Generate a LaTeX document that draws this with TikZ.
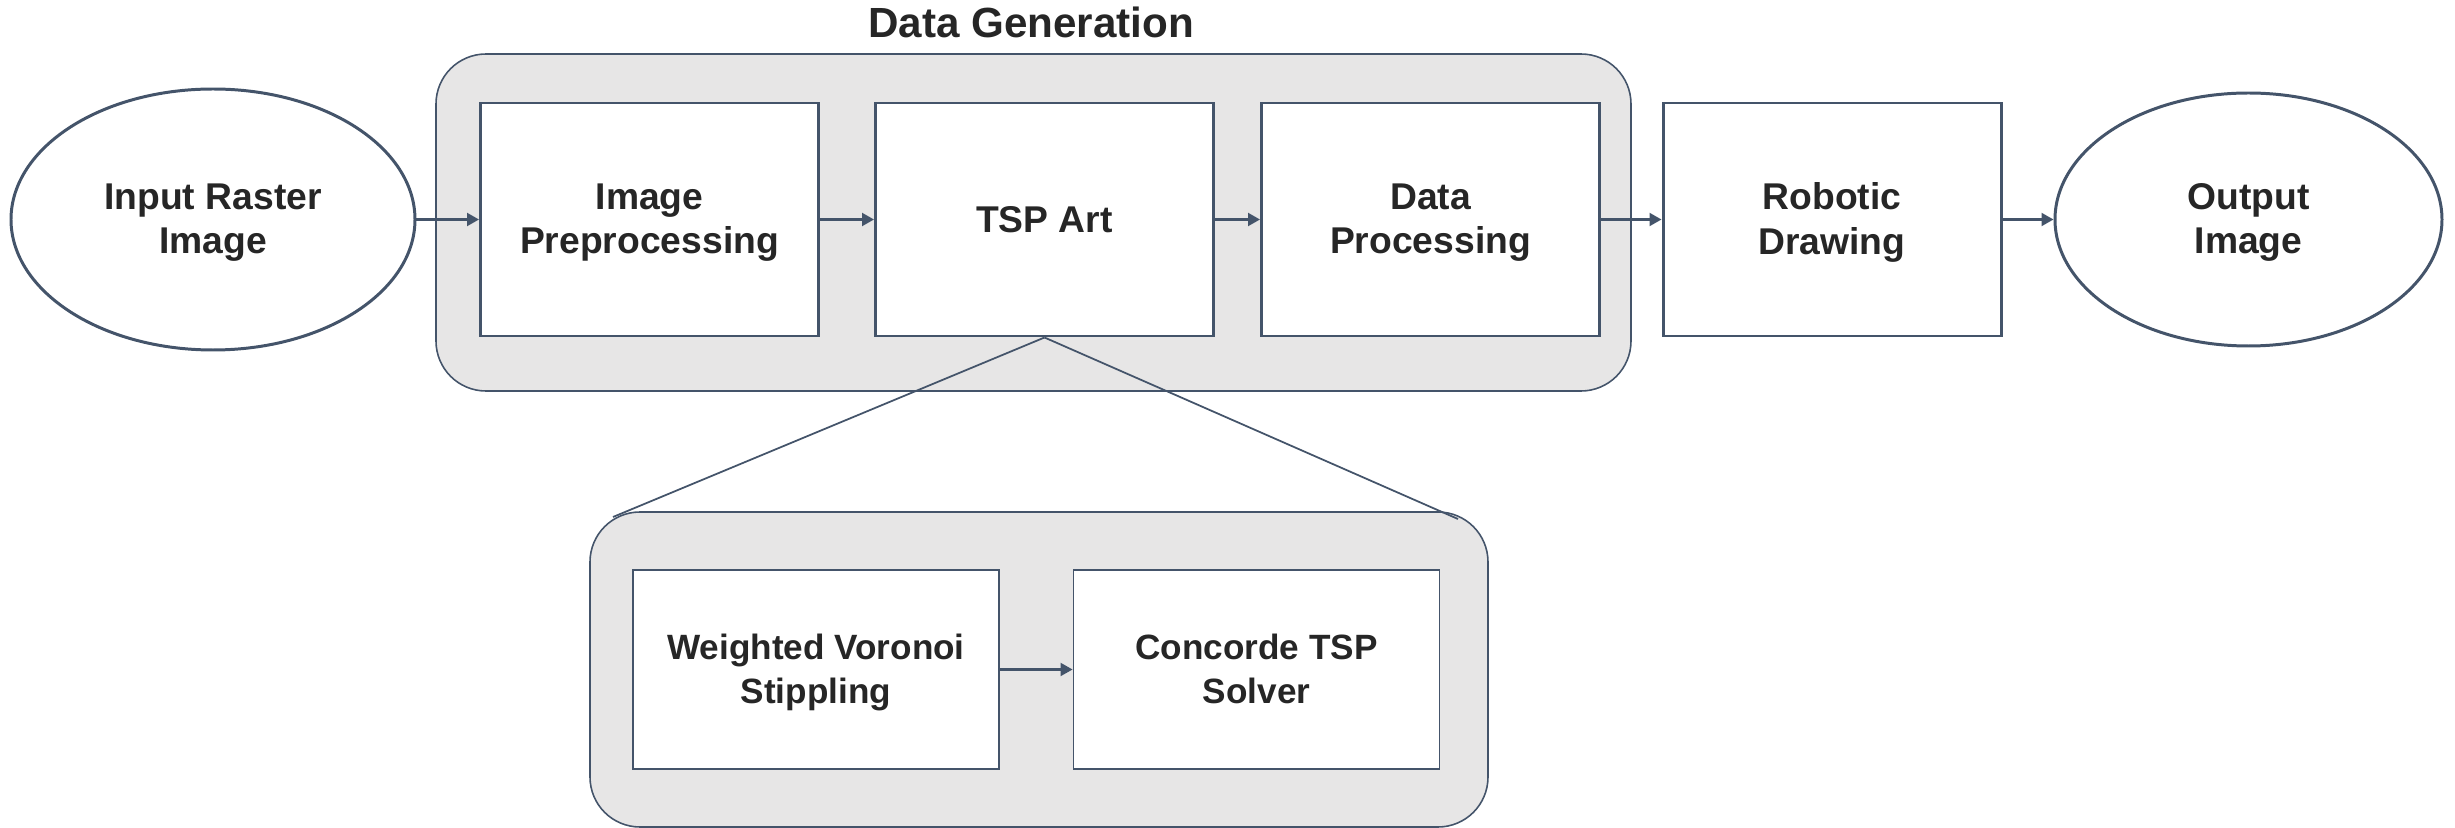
\documentclass[tikz,border=0pt]{standalone}
\usepackage{fontspec}
\setmainfont{Liberation Sans}
\usepackage{xcolor}
\usetikzlibrary{arrows.meta,shapes.geometric}
\definecolor{edgeblue}{HTML}{44546A}
\definecolor{groupgray}{HTML}{E7E6E6}
\definecolor{textdark}{HTML}{262626}

\begin{document}
\begin{tikzpicture}[
    stage/.style={draw=edgeblue,line width=0.85pt,fill=white,minimum width=3.38cm,minimum height=2.33cm,align=center,text=textdark,font=\fontsize{10.6}{12.6}\selectfont\bfseries},
    twoline/.style={text depth=0.5pt},
    substage/.style={stage,line width=0.55pt,minimum width=3.66cm,minimum height=1.99cm,font=\fontsize{10}{12.6}\selectfont\bfseries},
    terminal/.style={stage,ellipse,inner sep=0pt},
    group/.style={draw=edgeblue,line width=0.45pt,fill=groupgray,rounded corners=0.5cm},
    flow/.style={draw=edgeblue,line width=0.6pt,-{Triangle[length=0.12cm,width=0.13cm]}},
    zoomline/.style={draw=edgeblue,line width=0.5pt}
]
        \useasboundingbox (0,0) rectangle (24.55,8.28);

        % Group frames
        \node[group,minimum width=11.95cm,minimum height=3.37cm] (datagen) at (10.335,6.055) {};
        \node[anchor=base,text=textdark,font=\fontsize{12}{14}\selectfont\bfseries] (gentitle) at (10.31,7.90) {Data Generation};
        \node[group,minimum width=8.98cm,minimum height=3.15cm] (tspgroup) at (10.39,1.585) {};

        % Main pipeline
        \node[terminal,twoline,minimum width=4.04cm,minimum height=2.61cm] (input) at (2.13,6.085) {Input Raster\\Image};
        \node[stage,twoline] (prep) at (6.495,6.085) {Image\\Preprocessing};
        \node[stage] (tsp) at (10.445,6.085) {TSP Art};
        \node[stage,twoline] (dataproc) at (14.305,6.085) {Data\\Processing};
        \node[stage,twoline] (robot) at (18.32,6.085) {Robotic\\Drawing};
        \node[terminal,twoline,minimum width=3.87cm,minimum height=2.53cm] (output) at (22.485,6.085) {Output\\Image};

        % TSP Art detail
        \node[substage,twoline] (voronoi) at (8.16,1.585) {Weighted Voronoi\\Stippling};
        \node[substage,twoline] (concorde) at (12.565,1.585) {Concorde TSP\\Solver};

        % Arrows
        \draw[flow] (input) -- (prep);
        \draw[flow] (prep) -- (tsp);
        \draw[flow] (tsp) -- (dataproc);
        \draw[flow] (dataproc) -- (robot);
        \draw[flow] (robot) -- (output);
        \draw[flow] (voronoi) -- (concorde);

        % Zoom lines
        \coordinate (zoomleft) at (6.13,3.11);
        \coordinate (zoomright) at (14.58,3.09);
        \draw[zoomline] (tsp.south) -- (zoomleft);
        \draw[zoomline] (tsp.south) -- (zoomright);
    \end{tikzpicture}
\end{document}
